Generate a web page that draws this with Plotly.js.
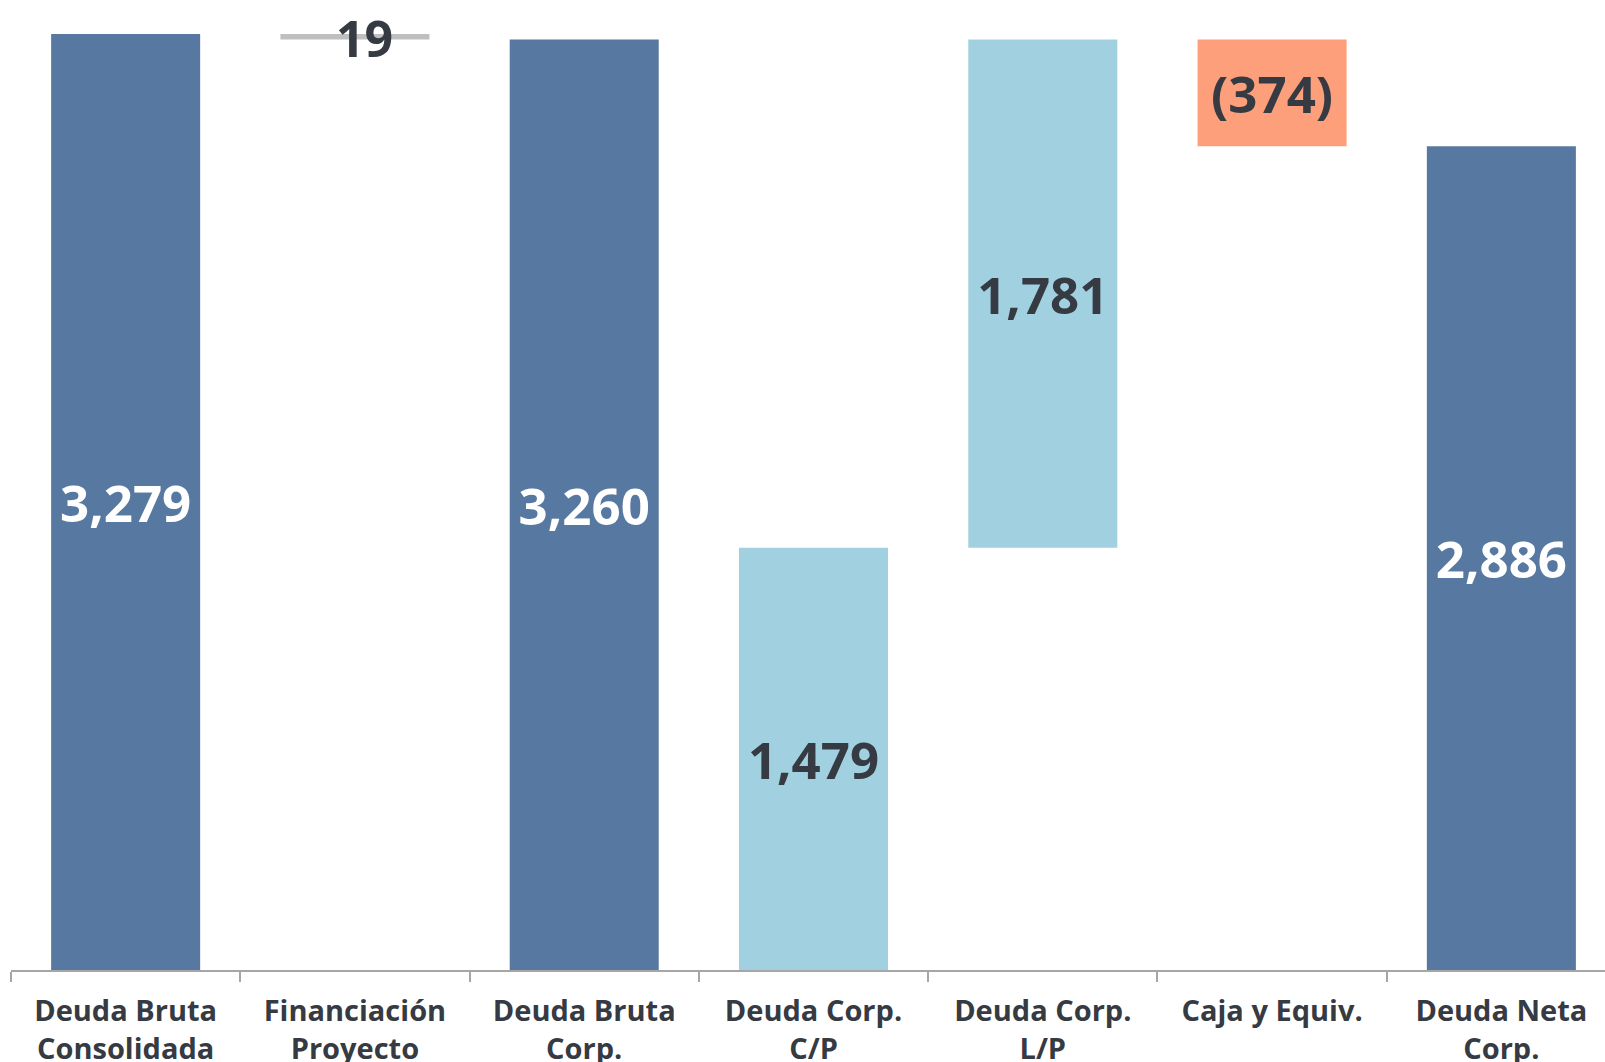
<!DOCTYPE html>
<html>
<head>
<meta charset="utf-8">
<script src="https://cdn.plot.ly/plotly-3.0.1.min.js"></script>
<style>
  html, body { margin: 0; padding: 0; background: #ffffff; }
  #chart { width: 1605px; height: 1062px; }
</style>
</head>
<body>
<div id="chart"></div>
<script>
// Puente de deuda (millones)
var categories = [
    "Deuda Bruta<br>Consolidada",
    "Financiación<br>Proyecto",
    "Deuda Bruta<br>Corp.",
    "Deuda Corp.<br>C/P",
    "Deuda Corp.<br>L/P",
    "Caja y Equiv.",
    "Deuda Neta<br>Corp."
];
var values = [3279, -19, 3260, 1479, 1781, -374, 2886];
// total = barra desde cero, delta = variación sobre el total anterior, part = desglose apilado
var kinds = ["total", "delta", "total", "part", "part", "delta", "total"];
var labels = ["3,279", "19", "3,260", "1,479", "1,781", "(374)", "2,886"];

var colors = {total: "#5778a0", part: "#a1d1e0", small: "#bfbfbf", delta: "#fc9f7a"};

// bases de cada barra
var bases = [];
var heights = [];
var running = 0;
var partRun = 0;
for (var i = 0; i < values.length; i++) {
    if (kinds[i] == "total") {
        bases.push(0);
        heights.push(values[i]);
        running = values[i];
        partRun = 0;
    } else if (kinds[i] == "delta") {
        running = running + values[i];
        bases.push(running);
        heights.push(Math.abs(values[i]));
    } else {
        bases.push(partRun);
        heights.push(values[i]);
        partRun += values[i];
    }
}

var barColors = [];
var textColors = [];
var textPos = [];
var notes = [];
for (var k = 0; k < kinds.length; k++) {
    textPos.push("inside");
    if (kinds[k] == "total") {
        barColors.push(colors.total);
        textColors.push("#ffffff");
    } else if (kinds[k] == "part") {
        barColors.push(colors.part);
        textColors.push("#363a42");
    } else if (Math.abs(values[k]) < 100) {
        // barra muy fina: la etiqueta va encima de la línea
        barColors.push(colors.small);
        textColors.push("#363a42");
        textPos[k] = "none";
        notes.push({
            x: categories[k],
            y: bases[k] + heights[k] / 2,
            text: labels[k],
            showarrow: false,
            xshift: 10,
            yshift: -1,
            font: {family: "Open Sans", size: 50, weight: 700, color: "#363a42"}
        });
    } else {
        barColors.push(colors.delta);
        textColors.push("#363a42");
    }
}

var trace = {
    type: "bar",
    x: categories,
    y: heights,
    base: bases,
    width: 0.65,
    marker: {color: barColors, line: {width: 0}},
    text: labels,
    textposition: textPos,
    insidetextanchor: "middle",
    constraintext: "none",
    textangle: 0,
    textfont: {family: "Open Sans", size: 51, weight: 700, color: textColors},
    hoverinfo: "none"
};

var layout = {
    width: 1605,
    height: 1062,
    margin: {l: 11, r: 0, t: 0, b: 92},
    paper_bgcolor: "#ffffff",
    plot_bgcolor: "#ffffff",
    showlegend: false,
    annotations: notes,
    xaxis: {
        type: "category",
        range: [-0.5, 6.452],
        showline: true,
        linecolor: "#a6a6a6",
        linewidth: 2,
        ticks: "outside",
        tickson: "boundaries",
        ticklen: 10,
        tickwidth: 2,
        tickcolor: "#a6a6a6",
        ticklabelstandoff: 14,
        showgrid: false,
        tickfont: {family: "Open Sans", size: 29, weight: 700, color: "#363a42"},
        fixedrange: true
    },
    yaxis: {
        range: [0, 3398],
        showgrid: false,
        zeroline: false,
        showticklabels: false,
        showline: false,
        fixedrange: true
    }
};

Plotly.newPlot("chart", [trace], layout, {displayModeBar: false, staticPlot: true});
</script>
</body>
</html>
